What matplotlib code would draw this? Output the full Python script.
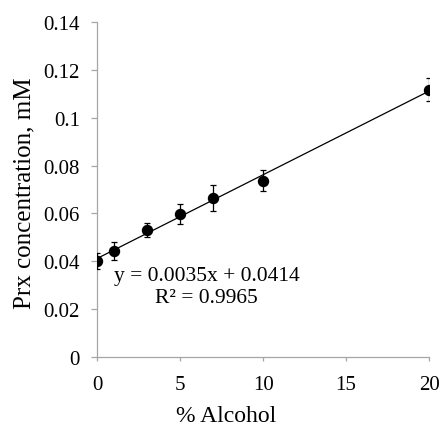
import numpy as np
import matplotlib
matplotlib.use("Agg")
import matplotlib.pyplot as plt

# data
alcohol = [0, 1, 3, 5, 7, 10, 20]
prx = [0.0401, 0.0444, 0.0530, 0.0598, 0.0664, 0.0737, 0.1116]
err = [0.0035, 0.0037, 0.0030, 0.0042, 0.0054, 0.0044, 0.0048]

eq_text = "y = 0.0035x + 0.0414\nR² = 0.9965"

plt.rcParams["font.family"] = ["Liberation Serif", "DejaVu Serif"]
plt.rcParams["font.size"] = 15

fig = plt.figure(figsize=(4.41, 4.27), dpi=100)
ax = fig.add_axes([0.22, 0.1616, 0.753, 0.7846])

# linear trendline
coef = np.polyfit(alcohol, prx, 1)
xs = np.array([0, 20])
ax.plot(xs, np.polyval(coef, xs), color="black", lw=0.9, zorder=2)

ax.errorbar(
    alcohol, prx, yerr=err,
    fmt="o", color="black", ms=7.2,
    ecolor="black", elinewidth=0.9, capsize=2.5, capthick=0.9,
    zorder=3
)

ax.text(
    6.6, 0.0293, eq_text,
    ha="center", va="center", fontsize=15.5, linespacing=1.2,
    multialignment="center"
)

ax.set_xlim(0, 20)
ax.set_ylim(0, 0.14)
ax.set_xticks([0, 5, 10, 15, 20])
ax.set_yticks(np.arange(0, 0.141, 0.02))
ax.set_yticklabels(["0", "0.02", "0.04", "0.06", "0.08", "0.1", "0.12", "0.14"])

for s in ["top", "right"]:
    ax.spines[s].set_visible(False)
for s in ["left", "bottom"]:
    ax.spines[s].set_color("#a6a6a6")
    ax.spines[s].set_linewidth(0.9)
ax.tick_params(direction="out", color="#a6a6a6", width=0.9)
ax.tick_params(axis="x", length=3, pad=10)
ax.tick_params(axis="y", length=4.3, pad=8)

ax.set_xlabel("% Alcohol", fontsize=17)
ax.set_ylabel("Prx concentration, mM", fontsize=18)
ax.xaxis.set_label_coords(0.39, -0.143)
ax.yaxis.set_label_coords(-0.185, 0.4925)

fig.savefig("out.png", dpi=100)
